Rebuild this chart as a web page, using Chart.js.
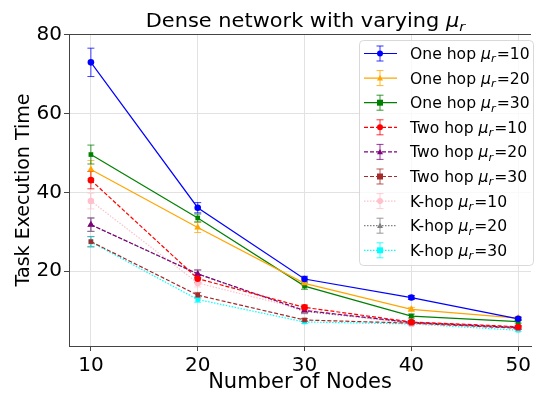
<!DOCTYPE html>
<html>
<head>
<meta charset="utf-8">
<script src="https://cdn.jsdelivr.net/npm/chart.js@4.4.0/dist/chart.umd.min.js"></script>
<style>
html, body { margin: 0; padding: 0; background: #fff; }
#wrap { width: 535px; height: 393px; }
</style>
</head>
<body>
<div id="wrap"><canvas id="taskChart" width="535" height="393"></canvas></div>
<script>
// x values and tick labels
var nodeCounts = [10, 20, 30, 40, 50];
var yTicks = [20, 40, 60, 80];

// mean task execution time per series, with error half-widths
var oneHop10 = [73.0, 36.1, 18.0, 13.3, 7.9];
var oneHop10Err = [3.6, 1.3, 0.7, 0.5, 0.4];
var oneHop20 = [45.8, 31.1, 16.9, 10.3, 8.1];
var oneHop20Err = [2.3, 1.3, 0.6, 0.5, 0.4];
var oneHop30 = [49.6, 33.5, 16.2, 8.6, 7.2];
var oneHop30Err = [2.4, 1.0, 0.8, 0.5, 0.4];
var twoHop10 = [43.1, 18.1, 10.8, 7.1, 5.9];
var twoHop10Err = [2.2, 1.0, 0.6, 0.4, 0.3];
var twoHop20 = [31.8, 19.3, 10.0, 7.0, 5.7];
var twoHop20Err = [1.7, 1.0, 0.6, 0.4, 0.3];
var twoHop30 = [27.5, 13.9, 7.6, 6.8, 5.5];
var twoHop30Err = [1.3, 0.7, 0.4, 0.3, 0.3];
var kHop10 = [37.8, 17.0, 10.2, 6.6, 5.6];
var kHop10Err = [2.0, 1.0, 0.6, 0.4, 0.3];
var kHop20 = [31.8, 19.3, 9.8, 6.9, 5.6];
var kHop20Err = [1.7, 1.0, 0.6, 0.4, 0.3];
var kHop30 = [27.4, 12.8, 7.1, 6.6, 5.0];
var kHop30Err = [1.3, 0.7, 0.4, 0.3, 0.3];

var FONT = "'DejaVu Sans', sans-serif";
var SOLID = [];
var DASHED = [4, 2];
var DOTTED = [1.5, 1.5];

function series(name, mu, values, errs, color, marker, dash) {
    return {
        label: name + " mu_r=" + mu,
        hopName: name,
        mu: mu,
        errors: errs,
        data: values.map(function(v, i) { return { x: nodeCounts[i], y: v }; }),
        borderColor: color,
        backgroundColor: color,
        pointBackgroundColor: color,
        pointBorderColor: color,
        pointStyle: marker,
        pointRadius: marker === "triangle" ? 4 : 3.3,
        pointBorderWidth: 0,
        borderWidth: 1.2,
        borderDash: dash,
        fill: false,
        tension: 0
    };
}

var datasets = [
    series("One hop", 10, oneHop10, oneHop10Err, "#0000ff", "circle", SOLID),
    series("One hop", 20, oneHop20, oneHop20Err, "#ffa500", "triangle", SOLID),
    series("One hop", 30, oneHop30, oneHop30Err, "#008000", "rect", SOLID),
    series("Two hop", 10, twoHop10, twoHop10Err, "#ff0000", "circle", DASHED),
    series("Two hop", 20, twoHop20, twoHop20Err, "#800080", "triangle", DASHED),
    series("Two hop", 30, twoHop30, twoHop30Err, "#a52a2a", "rect", DASHED),
    series("K-hop", 10, kHop10, kHop10Err, "#ffc0cb", "circle", DOTTED),
    series("K-hop", 20, kHop20, kHop20Err, "#808080", "triangle", DOTTED),
    series("K-hop", 30, kHop30, kHop30Err, "#00ffff", "rect", DOTTED)
];

// text like "One hop μr=10" with italic mu and subscript r, widened by sx
function drawMuText(ctx, prefix, suffix, x, y, size, sx) {
    ctx.save();
    ctx.translate(x, y);
    ctx.scale(sx, 1);
    ctx.textBaseline = "alphabetic";
    ctx.textAlign = "left";
    ctx.fillStyle = "#000";
    var cx = 0;
    ctx.font = size + "px " + FONT;
    ctx.fillText(prefix, cx, 0);
    cx += ctx.measureText(prefix).width;
    ctx.font = "italic " + size + "px " + FONT;
    ctx.fillText("\u03bc", cx, 0);
    cx += ctx.measureText("\u03bc").width;
    ctx.font = "italic " + Math.round(size * 0.7) + "px " + FONT;
    ctx.fillText("r", cx, size * 0.22);
    cx += ctx.measureText("r").width + 1;
    ctx.font = size + "px " + FONT;
    ctx.fillText(suffix, cx, 0);
    cx += ctx.measureText(suffix).width;
    ctx.restore();
    return cx * sx;
}

function muTextWidth(ctx, prefix, suffix, size, sx) {
    ctx.save();
    ctx.font = size + "px " + FONT;
    var w = ctx.measureText(prefix).width + ctx.measureText("\u03bc").width + ctx.measureText(suffix).width;
    ctx.font = "italic " + Math.round(size * 0.7) + "px " + FONT;
    w += ctx.measureText("r").width + 1;
    ctx.restore();
    return w * sx;
}

function drawMarker(ctx, style, x, y, r, color) {
    ctx.fillStyle = color;
    ctx.beginPath();
    if (style === "circle") {
        ctx.arc(x, y, r, 0, Math.PI * 2);
    } else if (style === "rect") {
        ctx.rect(x - r, y - r, r * 2, r * 2);
    } else {
        ctx.moveTo(x, y - r);
        ctx.lineTo(x + r, y + r * 0.8);
        ctx.lineTo(x - r, y + r * 0.8);
        ctx.closePath();
    }
    ctx.fill();
}

function drawErrorBar(ctx, x, yTop, yBottom, color) {
    ctx.strokeStyle = color;
    ctx.lineWidth = 1;
    ctx.setLineDash([]);
    ctx.beginPath();
    ctx.moveTo(x, yTop);
    ctx.lineTo(x, yBottom);
    ctx.moveTo(x - 3.5, yTop);
    ctx.lineTo(x + 3.5, yTop);
    ctx.moveTo(x - 3.5, yBottom);
    ctx.lineTo(x + 3.5, yBottom);
    ctx.stroke();
}

// vertical error bars with caps
var errorBarPlugin = {
    id: "errorBars",
    beforeDatasetsDraw: function(chart) {
        var ctx = chart.ctx;
        var xs = chart.scales.x, ys = chart.scales.y;
        ctx.save();
        ctx.globalAlpha = 0.75;
        chart.data.datasets.forEach(function(ds) {
            ds.data.forEach(function(p, i) {
                var e = ds.errors[i];
                drawErrorBar(ctx, xs.getPixelForValue(p.x), ys.getPixelForValue(p.y + e), ys.getPixelForValue(p.y - e), ds.borderColor);
            });
        });
        ctx.restore();
    }
};

// title, top spine and the boxed legend
var decorPlugin = {
    id: "decor",
    afterDraw: function(chart) {
        var ctx = chart.ctx;
        var area = chart.chartArea;
        ctx.save();
        ctx.strokeStyle = "#444";
        ctx.lineWidth = 1;
        ctx.beginPath();
        ctx.moveTo(area.left, area.top + 0.5);
        ctx.lineTo(area.right, area.top + 0.5);
        ctx.stroke();

        var tw = muTextWidth(ctx, "Dense network with varying ", "", 19, 1.1);
        drawMuText(ctx, "Dense network with varying ", "", 306 - tw / 2, 27, 19, 1.1);

        var bx = 359, by = 40, bw = 174, bh = 225, rad = 4;
        ctx.globalAlpha = 0.8;
        ctx.fillStyle = "#fff";
        ctx.strokeStyle = "#d0d0d0";
        ctx.beginPath();
        ctx.roundRect(bx + 0.5, by + 0.5, bw, bh, rad);
        ctx.fill();
        ctx.stroke();
        ctx.globalAlpha = 1;

        chart.data.datasets.forEach(function(ds, i) {
            var cy = 53.5 + i * 24.6;
            ctx.save();
            ctx.globalAlpha = 0.8;
            drawErrorBar(ctx, 380, cy - 7.5, cy + 7.5, ds.borderColor);
            ctx.restore();
            ctx.strokeStyle = ds.borderColor;
            ctx.lineWidth = 1.2;
            ctx.setLineDash(ds.borderDash);
            ctx.beginPath();
            ctx.moveTo(364, cy);
            ctx.lineTo(397, cy);
            ctx.stroke();
            ctx.setLineDash([]);
            drawMarker(ctx, ds.pointStyle, 380, cy, 3, ds.borderColor);
            drawMuText(ctx, ds.hopName + " ", "=" + ds.mu, 410, cy + 5.5, 15, 1.04);
        });
        ctx.restore();
    }
};

new Chart(document.getElementById("taskChart"), {
    type: "line",
    data: { datasets: datasets },
    options: {
        responsive: false,
        animation: false,
        devicePixelRatio: 1,
        layout: { padding: { top: 34, right: 2, left: 13, bottom: 0 } },
        plugins: {
            legend: { display: false },
            title: { display: false },
            tooltip: { enabled: false }
        },
        scales: {
            x: {
                type: "linear",
                min: 7.95,
                max: 51.2,
                afterBuildTicks: function(scale) {
                    scale.ticks = nodeCounts.map(function(v) { return { value: v }; });
                },
                afterFit: function(scale) { scale.height = 47; },
                grid: { color: "#e2e2e2", tickColor: "#444", tickLength: 5 },
                border: { color: "#444" },
                ticks: { color: "#000", font: { family: FONT, size: 20 }, padding: 3, maxRotation: 0 },
                title: { display: true, text: "Number of Nodes", color: "#000", font: { family: FONT, size: 21, lineHeight: 1.0 }, padding: { top: 0, bottom: 0 } }
            },
            y: {
                type: "linear",
                min: 1,
                max: 80.2,
                afterBuildTicks: function(scale) {
                    scale.ticks = yTicks.map(function(v) { return { value: v }; });
                },
                afterFit: function(scale) { scale.width = 56; },
                grid: { color: "#e2e2e2", tickColor: "#444", tickLength: 5 },
                border: { color: "#444" },
                ticks: { color: "#000", font: { family: FONT, size: 20 }, padding: 2 },
                title: { display: true, text: "Task Execution Time", color: "#000", font: { family: FONT, size: 19 }, padding: { top: 0, bottom: 0 } }
            }
        }
    },
    plugins: [errorBarPlugin, decorPlugin]
});
</script>
</body>
</html>
